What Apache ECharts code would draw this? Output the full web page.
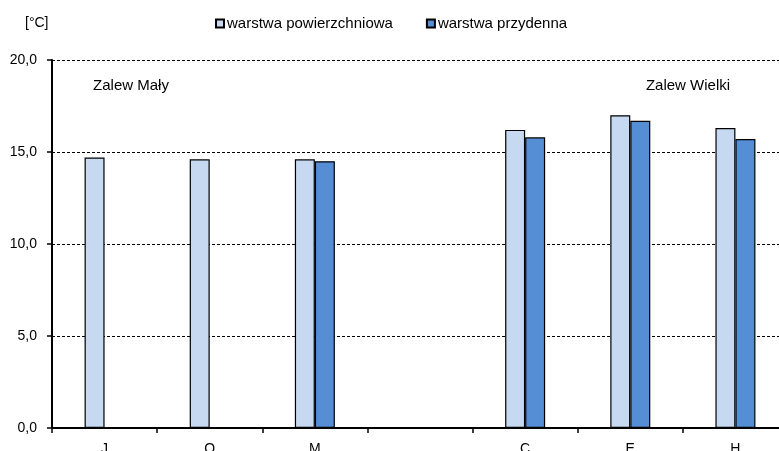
<!DOCTYPE html>
<html><head><meta charset="utf-8">
<script src="https://cdn.jsdelivr.net/npm/echarts@6/dist/echarts.min.js"></script>
<style>html,body{margin:0;padding:0;background:#fff}#c{width:779px;height:451px}</style>
</head><body><div id="c"></div>
<script>
const categories = ['J','O','M','','C','E','H'];
const surfaceValues = [14.7, 14.6, 14.6, null, 16.2, 17.0, 16.3];
const bottomValues = [null, null, 14.5, null, 15.8, 16.7, 15.7];
const seriesNames = ['warstwa powierzchniowa','warstwa przydenna'];
const yTicks = {min:0, max:20, interval:5};

const chart = echarts.init(document.getElementById('c'));
const font = 'Liberation Sans, Arial, sans-serif';
chart.setOption({
  animation:false,
  textStyle:{fontFamily:font},
  grid:{left:52, top:60, width:736, height:368, outerBoundsMode:'none', containLabel:false},
  legend:{left:215, top:16, padding:0, itemWidth:8, itemHeight:8, itemGap:33, icon:'rect',
    textStyle:{fontSize:15, color:'#000', fontFamily:font, padding:[0,0,0,-2]},
    data:seriesNames},
  xAxis:{type:'category', data:categories,
    axisLine:{lineStyle:{color:'#000', width:2}},
    axisTick:{show:true, length:5, lineStyle:{color:'#000', width:1.5}},
    axisLabel:{color:'#000', fontSize:14, margin:14, interval:0}},
  yAxis:{type:'value', min:yTicks.min, max:yTicks.max, interval:yTicks.interval,
    axisLine:{show:true, lineStyle:{color:'#000', width:2}},
    axisTick:{show:true, length:5, lineStyle:{color:'#000', width:1.5}},
    axisLabel:{color:'#000', fontSize:14, margin:15, formatter:v=>v.toFixed(1).replace('.',',')},
    splitLine:{lineStyle:{color:'#000', type:[3,2], width:1}}},
  series:[
    {name:seriesNames[0], type:'bar', data:surfaceValues, barWidth:20, barGap:'0%',
      itemStyle:{color:'#C6D9F1', borderColor:'#000', borderWidth:1.2}},
    {name:seriesNames[1], type:'bar', data:bottomValues, barWidth:20, barGap:'0%',
      itemStyle:{color:'#558ED5', borderColor:'#000', borderWidth:1.2}}
  ],
  graphic:[
    {type:'text', x:25, y:23, style:{text:'[°C]', fontSize:14, fill:'#000', fontFamily:font, textVerticalAlign:'middle'}},
    {type:'text', x:131, y:86, style:{text:'Zalew Mały', fontSize:15, fill:'#000', fontFamily:font, textAlign:'center', textVerticalAlign:'middle'}},
    {type:'text', x:688, y:86, style:{text:'Zalew Wielki', fontSize:15, fill:'#000', fontFamily:font, textAlign:'center', textVerticalAlign:'middle'}}
  ]
});
</script></body></html>
